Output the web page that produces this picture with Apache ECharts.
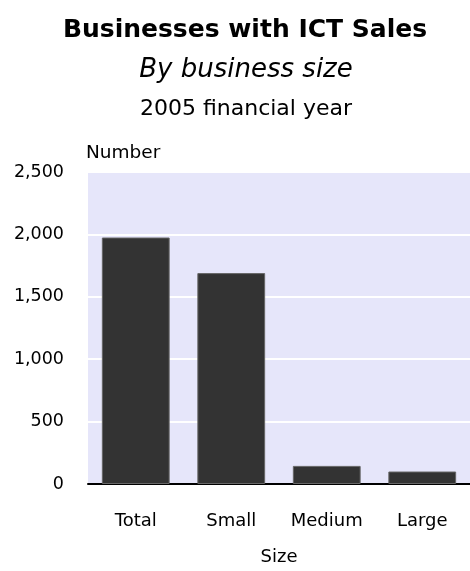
<!DOCTYPE html>
<html>
<head>
<meta charset="utf-8">
<script src="https://cdn.jsdelivr.net/npm/echarts@6/dist/echarts.min.js"></script>
<style>
  html, body { margin: 0; padding: 0; background: #ffffff; }
  #chart { width: 470px; height: 571px; }
</style>
</head>
<body>
<div id="chart"></div>
<script>
// Businesses with ICT sales, 2005 financial year
const categories = ['Total', 'Small', 'Medium', 'Large'];
const businessCounts = [1975, 1690, 145, 100];
const yTicks = [0, 500, 1000, 1500, 2000, 2500];

const FONT = '"DejaVu Sans", Verdana, sans-serif';

const chart = echarts.init(document.getElementById('chart'), null, { renderer: 'canvas' });

chart.setOption({
  animation: false,
  backgroundColor: '#ffffff',
  title: [
    {
      text: 'Businesses with ICT Sales',
      left: 240, top: 13, textAlign: 'center',
      textStyle: { fontFamily: FONT, fontSize: 25, fontWeight: 'bold', color: '#000' }
    },
    {
      text: 'By business size',
      left: 241, top: 52, textAlign: 'center',
      textStyle: { fontFamily: FONT, fontSize: 26, fontStyle: 'italic', fontWeight: 'normal', color: '#000' }
    },
    {
      text: '2005 financial year',
      left: 241, top: 93, textAlign: 'center',
      textStyle: { fontFamily: FONT, fontSize: 22, fontWeight: 'normal', color: '#000' }
    }
  ],
  grid: {
    left: 88, right: 0, top: 172, bottom: 84,
    show: true, backgroundColor: '#e6e6fa', borderWidth: 0
  },
  xAxis: {
    type: 'category',
    data: categories,
    name: 'Size',
    nameLocation: 'middle',
    nameGap: 64,
    nameTextStyle: { fontFamily: FONT, fontSize: 18, color: '#000' },
    axisLine: { show: true, lineStyle: { color: '#000', width: 2 } },
    axisTick: { show: false },
    axisLabel: { fontFamily: FONT, fontSize: 18, color: '#000', margin: 28 }
  },
  yAxis: {
    type: 'value',
    min: yTicks[0],
    max: yTicks[yTicks.length - 1],
    interval: 500,
    name: 'Number',
    nameLocation: 'end',
    nameGap: 9,
    nameTextStyle: { fontFamily: FONT, fontSize: 18.5, color: '#000', align: 'left', padding: [0, 0, 0, -2] },
    axisLine: { show: false },
    axisTick: { show: false },
    splitLine: { show: true, lineStyle: { color: '#ffffff', width: 2 } },
    axisLabel: {
      fontFamily: FONT, fontSize: 17.5, color: '#000', margin: 24,
      formatter: v => v.toLocaleString('en-US')
    }
  },
  series: [{
    type: 'bar',
    data: businessCounts,
    barCategoryGap: '29%',
    itemStyle: { color: '#333333', borderColor: '#666666', borderWidth: 1 }
  }]
});
</script>
</body>
</html>
